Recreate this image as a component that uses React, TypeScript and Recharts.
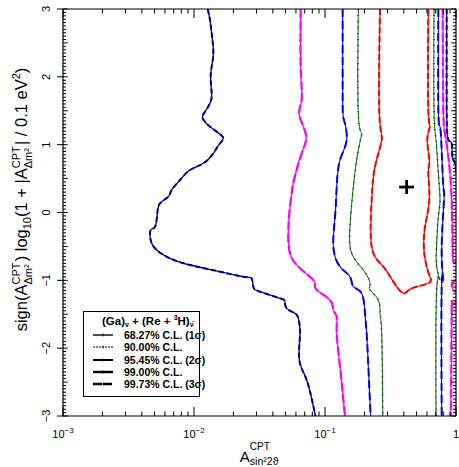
import React from 'react';
import { ComposedChart, Line, Scatter, XAxis, YAxis, Legend, Label } from 'recharts';

type P = { x: number; y: number };

const FONT = "'Liberation Sans', Arial, Helvetica, sans-serif";

// ---- contour data (x: A_sin22theta, y: sign log10(...)) ----
const navyLeft: P[] = [
  { x: 0.01272, y: 3.0 }, { x: 0.01325, y: 2.838 }, { x: 0.01364, y: 2.641 }, { x: 0.01405, y: 2.396 },
  { x: 0.01378, y: 2.199 }, { x: 0.0134, y: 2.002 }, { x: 0.01364, y: 1.757 }, { x: 0.01325, y: 1.61 },
  { x: 0.01192, y: 1.462 }, { x: 0.01165, y: 1.389 }, { x: 0.01325, y: 1.265 }, { x: 0.01655, y: 1.117 },
  { x: 0.01579, y: 1.02 }, { x: 0.01405, y: 0.873 }, { x: 0.01178, y: 0.725 }, { x: 0.00932, y: 0.626 },
  { x: 0.00782, y: 0.479 }, { x: 0.00675, y: 0.332 }, { x: 0.00637, y: 0.233 }, { x: 0.0055, y: 0.135 },
  { x: 0.00525, y: -0.012 }, { x: 0.00504, y: -0.209 }, { x: 0.00467, y: -0.258 }, { x: 0.00467, y: -0.406 },
  { x: 0.00519, y: -0.553 }, { x: 0.00656, y: -0.675 }, { x: 0.00932, y: -0.774 }, { x: 0.01579, y: -0.873 },
  { x: 0.0238, y: -0.947 }, { x: 0.02755, y: -0.97 }, { x: 0.02837, y: -1.094 }, { x: 0.03191, y: -1.168 },
  { x: 0.04534, y: -1.265 }, { x: 0.04951, y: -1.315 }, { x: 0.05097, y: -1.413 }, { x: 0.05902, y: -1.486 },
  { x: 0.06257, y: -1.56 }, { x: 0.06444, y: -1.781 }, { x: 0.06368, y: -2.175 }, { x: 0.07245, y: -2.47 },
  { x: 0.0845, y: -3.0 },
];

const magentaLeft: P[] = [
  { x: 0.06521, y: 3.0 }, { x: 0.06521, y: 2.15 }, { x: 0.06636, y: 1.658 }, { x: 0.06368, y: 1.437 },
  { x: 0.07161, y: 1.142 }, { x: 0.06636, y: 0.873 }, { x: 0.058, y: 0.479 }, { x: 0.05566, y: 0.283 },
  { x: 0.05341, y: -0.012 }, { x: 0.05248, y: -0.307 }, { x: 0.05403, y: -0.602 }, { x: 0.06257, y: -0.799 },
  { x: 0.07683, y: -0.947 }, { x: 0.08389, y: -1.044 }, { x: 0.08638, y: -1.143 }, { x: 0.1092, y: -1.29 },
  { x: 0.1158, y: -1.438 }, { x: 0.1228, y: -1.536 }, { x: 0.1228, y: -1.781 }, { x: 0.1302, y: -2.273 },
  { x: 0.1421, y: -3.0 },
];

const blueLeft: P[] = [
  { x: 0.1364, y: 3.0 }, { x: 0.1364, y: 1.658 }, { x: 0.1396, y: 1.364 }, { x: 0.1463, y: 1.069 },
  { x: 0.1302, y: 0.774 }, { x: 0.1228, y: 0.38 }, { x: 0.1193, y: -0.062 }, { x: 0.1158, y: -0.504 },
  { x: 0.1302, y: -0.799 }, { x: 0.1551, y: -0.947 }, { x: 0.1646, y: -1.094 }, { x: 0.1905, y: -1.192 },
  { x: 0.202, y: -1.486 }, { x: 0.208, y: -1.781 }, { x: 0.2142, y: -2.273 }, { x: 0.223, y: -3.0 },
];

const greenLeft: P[] = [
  { x: 0.1796, y: 3.0 }, { x: 0.1796, y: 1.462 }, { x: 0.1905, y: 1.167 }, { x: 0.1796, y: 0.921 },
  { x: 0.1646, y: 0.38 }, { x: 0.1551, y: -0.209 }, { x: 0.1598, y: -0.602 }, { x: 0.1962, y: -0.848 },
  { x: 0.2206, y: -1.044 }, { x: 0.2206, y: -1.143 }, { x: 0.2554, y: -1.29 }, { x: 0.263, y: -1.486 },
  { x: 0.2708, y: -1.781 }, { x: 0.276, y: -3.0 },
];

const redLoop: P[] = [
  { x: 0.263, y: 3.0 }, { x: 0.2599, y: 1.462 }, { x: 0.2708, y: 1.069 }, { x: 0.2407, y: 0.675 },
  { x: 0.2271, y: 0.184 }, { x: 0.2271, y: -0.504 }, { x: 0.2788, y: -0.799 }, { x: 0.3525, y: -1.094 },
  { x: 0.408, y: -1.192 }, { x: 0.4587, y: -1.118 }, { x: 0.6149, y: -1.044 }, { x: 0.6331, y: -0.947 },
  { x: 0.5971, y: -0.799 }, { x: 0.5696, y: -0.553 }, { x: 0.5798, y: -0.209 }, { x: 0.6257, y: 0.184 },
  { x: 0.6149, y: 0.578 }, { x: 0.6257, y: 0.774 }, { x: 0.6041, y: 1.069 }, { x: 0.6331, y: 1.265 },
  { x: 0.6149, y: 1.511 }, { x: 0.6149, y: 3.0 },
];

const greenRight: P[] = [
  { x: 0.6796, y: 3.0 }, { x: 0.6796, y: 1.511 }, { x: 0.7037, y: 1.069 }, { x: 0.733, y: 0.578 },
  { x: 0.755, y: 0.184 }, { x: 0.733, y: -0.062 }, { x: 0.7119, y: -0.455 }, { x: 0.7119, y: -0.799 },
  { x: 0.755, y: -0.995 }, { x: 0.7119, y: -1.143 }, { x: 0.7037, y: -3.0 },
];

const blueRight: P[] = [
  { x: 0.733, y: 3.0 }, { x: 0.733, y: 1.511 }, { x: 0.755, y: 1.265 }, { x: 0.7774, y: 0.921 },
  { x: 0.8003, y: 0.38 }, { x: 0.8099, y: 0.184 }, { x: 0.7774, y: -0.553 }, { x: 0.8003, y: -0.995 },
  { x: 0.7774, y: -1.094 }, { x: 0.7774, y: -3.0 },
];

const magentaRightTop: P[] = [
  { x: 0.7909, y: 3.0 }, { x: 0.8003, y: 1.511 }, { x: 0.8242, y: 1.167 }, { x: 0.8738, y: 0.823 },
  { x: 0.9, y: 0.578 }, { x: 0.9267, y: 0.184 }, { x: 0.9431, y: -0.553 }, { x: 0.9541, y: -0.725 },
  { x: 1.0, y: -0.749 },
];

const magentaRightBlob: P[] = [
  { x: 1.0, y: -0.995 }, { x: 0.9541, y: -1.02 }, { x: 0.9267, y: -1.069 }, { x: 0.9541, y: -1.143 },
  { x: 1.0, y: -1.167 },
];

const magentaRightBottom: P[] = [
  { x: 1.0, y: -1.315 }, { x: 0.9376, y: -1.339 }, { x: 0.9267, y: -1.486 }, { x: 0.915, y: -3.0 },
];

const navyRight: P[] = [
  { x: 0.8487, y: 3.0 }, { x: 0.8487, y: 1.511 }, { x: 0.8738, y: 1.069 }, { x: 0.9267, y: 1.02 },
  { x: 0.9376, y: 0.823 }, { x: 0.9827, y: 0.725 }, { x: 1.0, y: 0.578 },
];

const bestFit: P[] = [{ x: 0.42, y: 0.375 }];

// ---- axes ----
const xMajorTicks = [0.001, 0.01, 0.1, 1];
const xTickBase = ['10', '10', '10', '1'];
const xTickExp = ['\u22123', '\u22122', '\u22121', ''];
const xMinorMultipliers = [2, 3, 4, 5, 6, 7, 8, 9];
const yMajorTicks = [-3, -2, -1, 0, 1, 2, 3];
const yTickLabels = ['\u22123', '\u22122', '\u22121', '0', '1', '2', '3'];

const legendLabels = [
  '68.27% C.L. (1\u03c3)',
  '90.00% C.L.',
  '95.45% C.L. (2\u03c3)',
  '99.00% C.L.',
  '99.73% C.L. (3\u03c3)',
];

const xTicks: number[] = [
  ...xMajorTicks.slice(0, 3).flatMap((d) => [d, ...xMinorMultipliers.map((m) => +(d * m).toPrecision(3))]),
  1,
];
const yTicks: number[] = [];
for (let i = -60; i <= 60; i++) yTicks.push(+(i * 0.05).toFixed(2));

const xMajorIndex = (v: number) => xMajorTicks.findIndex((t) => Math.abs(t - v) / t < 1e-6);
const yMajorIndex = (v: number) => yMajorTicks.findIndex((t) => Math.abs(t - v) < 1e-6);
const isHalf = (v: number) => Math.abs(v * 2 - Math.round(v * 2)) < 1e-6;

const BottomTick = (p: any) => {
  const v = p.payload.value;
  const i = xMajorIndex(v);
  const major = i >= 0;
  return (
    <g>
      <line x1={p.x} x2={p.x} y1={p.y} y2={p.y - (major ? 9 : 4.5)} stroke="#000" strokeWidth={1} />
      {major && (
        <text x={p.x} y={p.y + 22} textAnchor="middle" fontSize={11} fontFamily={FONT} fill="#000">
          {xTickBase[i]}
          {xTickExp[i] && (
            <tspan dy={-5} fontSize={8}>
              {xTickExp[i]}
            </tspan>
          )}
        </text>
      )}
    </g>
  );
};

const TopTick = (p: any) => {
  const major = xMajorIndex(p.payload.value) >= 0;
  return <line x1={p.x} x2={p.x} y1={p.y} y2={p.y + (major ? 9 : 4.5)} stroke="#000" strokeWidth={1} />;
};

const LeftTick = (p: any) => {
  const v = p.payload.value;
  const i = yMajorIndex(v);
  const len = isHalf(v) ? 4.7 : 3;
  const lx = p.x - 13;
  return (
    <g>
      <line x1={i >= 0 ? p.x - 6 : p.x} x2={p.x + len} y1={p.y} y2={p.y} stroke="#000" strokeWidth={1} />
      {i >= 0 && (
        <text
          x={lx}
          y={p.y}
          transform={`rotate(-90, ${lx}, ${p.y})`}
          textAnchor="middle"
          fontSize={11}
          fontFamily={FONT}
          fill="#000"
        >
          {yTickLabels[i]}
        </text>
      )}
    </g>
  );
};

const RightTick = (p: any) => {
  const v = p.payload.value;
  const len = isHalf(v) ? 4.7 : 3;
  return <line x1={p.x} x2={p.x - len} y1={p.y} y2={p.y} stroke="#000" strokeWidth={1} />;
};

const XTitle = (props: any) => {
  const vb = props.viewBox;
  const x0 = vb.x + vb.width * 0.45;
  const y0 = vb.y + vb.height + 44.5;
  return (
    <text x={x0} y={y0} fontFamily={FONT} fill="#000" fontSize={15}>
      A
      <tspan dy={-12} fontSize={10}>CPT</tspan>
      <tspan dx={-20} dy={15} fontSize={10.5}>sin{'\u00b2'}2{'\u03d1'}</tspan>
    </text>
  );
};

const YTitle = (props: any) => {
  const vb = props.viewBox;
  const cx = vb.x + vb.width - 36;
  const cy = vb.y + vb.height / 2 - 13;
  const s = 11;
  return (
    <text
      x={cx}
      y={cy}
      transform={`rotate(-90, ${cx}, ${cy})`}
      textAnchor="middle"
      fontFamily={FONT}
      fontSize={16.5}
      fill="#000"
    >
      sign(A
      <tspan dy={-7} fontSize={s}>CPT</tspan>
      <tspan dx={-22} dy={12} fontSize={s}>{'\u0394'}m{'\u00b2'}</tspan>
      <tspan dx={3} dy={-5}>) log</tspan>
      <tspan dy={4} fontSize={s}>10</tspan>
      <tspan dy={-4}>(1 + |A</tspan>
      <tspan dy={-7} fontSize={s}>CPT</tspan>
      <tspan dx={-22} dy={12} fontSize={s}>{'\u0394'}m{'\u00b2'}</tspan>
      <tspan dx={3} dy={-5}>| / 0.1 eV</tspan>
      <tspan dy={-7} fontSize={s}>2</tspan>
      <tspan dy={7}>)</tspan>
    </text>
  );
};

const PlusShape = (props: any) => {
  const { cx, cy } = props;
  return (
    <g>
      <line x1={cx - 7.5} x2={cx + 7.5} y1={cy} y2={cy} stroke="#000" strokeWidth={2.8} />
      <line x1={cx} x2={cx} y1={cy - 7} y2={cy + 7} stroke="#000" strokeWidth={2.8} />
    </g>
  );
};

const legendLineStyles = [
  { w: 1.4, dash: undefined as string | undefined },
  { w: 1, dash: '2 1' },
  { w: 2, dash: undefined },
  { w: 2.4, dash: undefined },
  { w: 2.6, dash: '9 1' },
];

const LegendBox = () => (
  <div
    style={{
      width: 117,
      height: 86,
      border: '1px solid #000',
      background: '#fff',
      boxSizing: 'border-box',
      fontFamily: FONT,
      position: 'relative',
      color: '#000',
    }}
  >
    <div style={{ position: 'absolute', left: 18, top: -1, fontSize: 11.5, fontWeight: 'bold', whiteSpace: 'nowrap', lineHeight: '14px' }}>
      (Ga)<span style={{ fontSize: 7, verticalAlign: -2 }}>{'\u03bd'}</span> + (Re + <span style={{ fontSize: 7, verticalAlign: 5 }}>3</span>H)
      <span style={{ fontSize: 7, verticalAlign: -2 }}>{'\u03bd\u0304'}</span>
    </div>
    {legendLabels.map((l, i) => (
      <div
        key={l}
        style={{
          position: 'absolute',
          left: 8,
          top: 17 + i * 12.3,
          height: 12,
          display: 'flex',
          alignItems: 'center',
          fontSize: 10.5,
          fontWeight: 'bold',
          whiteSpace: 'nowrap',
        }}
      >
        <svg width={24} height={8} style={{ marginRight: 8 }}>
          <line x1={1} x2={21} y1={4} y2={4} stroke="#000" strokeWidth={legendLineStyles[i].w} strokeDasharray={legendLineStyles[i].dash} />
          <line x1={11} x2={11} y1={2.5} y2={5.5} stroke="#000" strokeWidth={0.8} />
        </svg>
        {l}
      </div>
    ))}
  </div>
);

const contours = [
  { key: 'navyL', data: navyLeft, color: '#00008b', base: 1.3, over: 2.0, dash: '5 3' },
  { key: 'navyR', data: navyRight, color: '#00008b', base: 1.3, over: 2.0, dash: '5 3' },
  { key: 'magL', data: magentaLeft, color: '#ff00ff', base: 1.2, over: 2.2, dash: '9 3' },
  { key: 'magR1', data: magentaRightTop, color: '#ff00ff', base: 1.2, over: 2.2, dash: '9 3' },
  { key: 'magR2', data: magentaRightBlob, color: '#ff00ff', base: 1.2, over: 2.2, dash: '9 3' },
  { key: 'magR3', data: magentaRightBottom, color: '#ff00ff', base: 1.2, over: 2.2, dash: '9 3' },
  { key: 'blueL', data: blueLeft, color: '#0000ff', base: 1.1, over: 2.0, dash: '8 4' },
  { key: 'blueR', data: blueRight, color: '#0000ff', base: 1.1, over: 2.0, dash: '8 4' },
  { key: 'greenL', data: greenLeft, color: '#006400', base: 1.0, over: 1.8, dash: '1 5' },
  { key: 'greenR', data: greenRight, color: '#006400', base: 1.0, over: 1.8, dash: '1 5' },
  { key: 'red', data: redLoop, color: '#ff0000', base: 1.2, over: 2.0, dash: '6 3' },
];

const axisLineStyle = { stroke: '#000', strokeWidth: 1.2 };

export default function App() {
  return (
    <div style={{ position: 'absolute', left: 0, top: 0, background: '#fff' }}>
      <ComposedChart width={459} height={467} margin={{ top: 8, right: 2, bottom: 50, left: 62 }}>
        <XAxis
          xAxisId="b"
          type="number"
          dataKey="x"
          scale="log"
          domain={[0.001, 1]}
          allowDataOverflow
          ticks={xTicks}
          interval={0}
          height={1}
          tickSize={0}
          tickMargin={0}
          tickLine={false}
          tick={BottomTick}
          axisLine={axisLineStyle}
        >
          <Label content={XTitle} />
        </XAxis>
        <XAxis
          xAxisId="t"
          orientation="top"
          type="number"
          dataKey="x"
          scale="log"
          domain={[0.001, 1]}
          allowDataOverflow
          ticks={xTicks}
          interval={0}
          height={1}
          tickSize={0}
          tickMargin={0}
          tickLine={false}
          tick={TopTick}
          axisLine={axisLineStyle}
        />
        <YAxis
          yAxisId="l"
          type="number"
          dataKey="y"
          domain={[-3, 3]}
          allowDataOverflow
          ticks={yTicks}
          interval={0}
          width={1}
          tickSize={0}
          tickMargin={0}
          tickLine={false}
          tick={LeftTick}
          axisLine={axisLineStyle}
        >
          <Label content={YTitle} />
        </YAxis>
        <YAxis
          yAxisId="r"
          orientation="right"
          type="number"
          dataKey="y"
          domain={[-3, 3]}
          allowDataOverflow
          ticks={yTicks}
          interval={0}
          width={1}
          tickSize={0}
          tickMargin={0}
          tickLine={false}
          tick={RightTick}
          axisLine={axisLineStyle}
        />
        {contours.map((c) => (
          <Line
            key={c.key + '-base'}
            xAxisId="b"
            yAxisId="l"
            data={c.data}
            dataKey="y"
            type="natural"
            stroke={c.color}
            strokeWidth={c.base}
            dot={false}
            activeDot={false}
            legendType="none"
            isAnimationActive={false}
          />
        ))}
        {contours.map((c) => (
          <Line
            key={c.key + '-over'}
            xAxisId="b"
            yAxisId="l"
            data={c.data}
            dataKey="y"
            type="natural"
            stroke={c.color}
            strokeWidth={c.over}
            strokeDasharray={c.dash}
            dot={false}
            activeDot={false}
            legendType="none"
            isAnimationActive={false}
          />
        ))}
        <Scatter
          xAxisId="b"
          yAxisId="l"
          data={bestFit}
          dataKey="y"
          fill="#000"
          shape={PlusShape}
          legendType="none"
          isAnimationActive={false}
        />
        <Legend
          layout="vertical"
          align="center"
          verticalAlign="middle"
          content={LegendBox}
          wrapperStyle={{ position: 'absolute', left: 83, top: 311, width: 117, height: 86 }}
        />
      </ComposedChart>
    </div>
  );
}
